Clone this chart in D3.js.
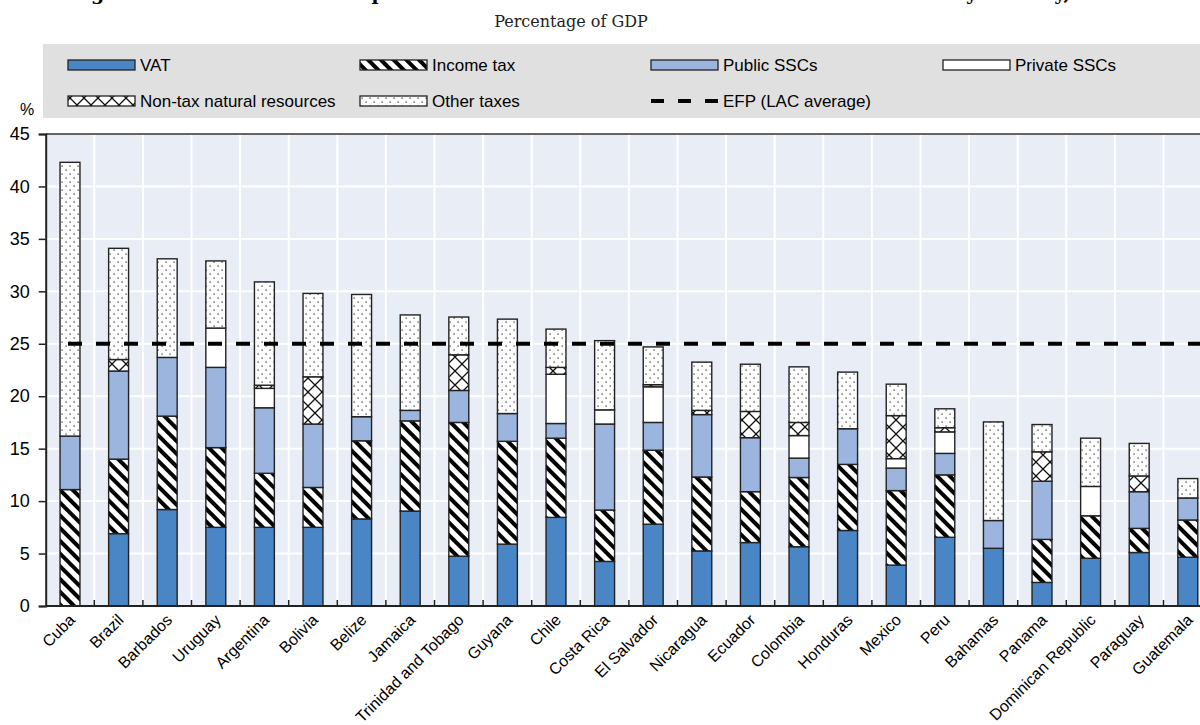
<!DOCTYPE html>
<html>
<head>
<meta charset="utf-8">
<script src="https://cdn.jsdelivr.net/npm/d3@7"></script>
<style>
  html, body { margin: 0; padding: 0; background: #fff; }
  svg { display: block; }
  .lbl { font-family: "Liberation Sans Narrow", "Arial Narrow", "Liberation Sans", Arial, sans-serif; fill: #000; }
</style>
</head>
<body>
<svg id="chart" width="1200" height="725"></svg>
<script>
// ---------------- DATA ----------------
const countries = ["Cuba","Brazil","Barbados","Uruguay","Argentina","Bolivia","Belize","Jamaica",
  "Trinidad and Tobago","Guyana","Chile","Costa Rica","El Salvador","Nicaragua","Ecuador","Colombia",
  "Honduras","Mexico","Peru","Bahamas","Panama","Dominican Republic","Paraguay","Guatemala"];
const vat        = [0, 6.9, 9.2, 7.5, 7.5, 7.5, 8.3, 9.05, 4.75, 5.9, 8.45, 4.25, 7.8, 5.25, 6.05, 5.65, 7.2, 3.9, 6.55, 5.5, 2.25, 4.55, 5.1, 4.65];
const incomeTax  = [11.1, 7.1, 8.9, 7.6, 5.15, 3.8, 7.45, 8.6, 12.75, 9.8, 7.55, 4.9, 7.05, 7.05, 4.85, 6.6, 6.3, 7.1, 5.95, 0, 4.1, 4.05, 2.3, 3.55];
const publicSSC  = [5.1, 8.4, 5.6, 7.65, 6.25, 6.05, 2.3, 1.0, 3.05, 2.65, 1.4, 8.2, 2.65, 5.95, 5.15, 1.85, 3.4, 2.15, 2.05, 2.65, 5.55, 0, 3.5, 2.1];
const privateSSC = [0, 0, 0, 3.75, 1.85, 0, 0, 0, 0, 0, 4.7, 1.35, 3.4, 0, 0, 2.15, 0, 0.9, 2.05, 0, 0, 2.8, 0, 0];
const nonTaxNR   = [0, 1.1, 0, 0, 0.3, 4.5, 0, 0, 3.4, 0, 0.65, 0, 0.2, 0.4, 2.5, 1.25, 0, 4.1, 0.4, 0, 2.8, 0, 1.5, 0];
const otherTaxes = [26.1, 10.6, 9.4, 6.4, 9.85, 7.95, 11.65, 9.1, 3.6, 9.0, 3.65, 6.6, 3.6, 4.6, 4.5, 5.3, 5.4, 3.0, 1.8, 9.4, 2.6, 4.6, 3.1, 1.85];
const efpAverage = 25;
const yTicks = [0, 5, 10, 15, 20, 25, 30, 35, 40, 45];
const seriesNames = ["VAT", "Income tax", "Public SSCs", "Private SSCs", "Non-tax natural resources", "Other taxes"];
const seriesKeys = ["vat", "incomeTax", "publicSSC", "privateSSC", "nonTaxNR", "otherTaxes"];
const title = "Figure 3.2. Tax revenue composition and non-tax revenues from natural resources by country, 2021";
const subtitle = "Percentage of GDP";

// ---------------- SETUP ----------------
const rows = countries.map((c, i) => ({
  country: c, vat: vat[i], incomeTax: incomeTax[i], publicSSC: publicSSC[i],
  privateSSC: privateSSC[i], nonTaxNR: nonTaxNR[i], otherTaxes: otherTaxes[i]
}));
const stacked = d3.stack().keys(seriesKeys)(rows);

const svg = d3.select("#chart");
const defs = svg.append("defs");

// patterns
const pInc = defs.append("pattern").attr("id", "p-income").attr("patternUnits", "userSpaceOnUse")
  .attr("width", 9).attr("height", 9).attr("patternTransform", "rotate(-45)");
pInc.append("rect").attr("width", 9).attr("height", 9).attr("fill", "#fff");
pInc.append("rect").attr("x", 0).attr("width", 4).attr("height", 9).attr("fill", "#000");

const pDot = defs.append("pattern").attr("id", "p-dots").attr("patternUnits", "userSpaceOnUse")
  .attr("width", 8).attr("height", 8);
pDot.append("rect").attr("width", 8).attr("height", 8).attr("fill", "#fff");
pDot.append("rect").attr("x", 1.5).attr("y", 1.5).attr("width", 1.2).attr("height", 1.2).attr("fill", "#222");
pDot.append("rect").attr("x", 5.5).attr("y", 5.5).attr("width", 1.2).attr("height", 1.2).attr("fill", "#222");

const pX = defs.append("pattern").attr("id", "p-cross").attr("patternUnits", "userSpaceOnUse")
  .attr("width", 14).attr("height", 14);
pX.append("rect").attr("width", 14).attr("height", 14).attr("fill", "#fff");
pX.append("path").attr("d", "M0,0L14,14M14,0L0,14").attr("stroke", "#111").attr("stroke-width", 1.3);

const fills = {
  vat: "#4a86c6", incomeTax: "url(#p-income)", publicSSC: "#9bb5de",
  privateSSC: "#ffffff", nonTaxNR: "url(#p-cross)", otherTaxes: "url(#p-dots)"
};

const plotLeft = 45.7, step = 48.6, plotTop = 134, plotBottom = 606;
const x = d3.scaleBand().domain(countries).range([plotLeft, plotLeft + step * countries.length])
  .paddingInner(0.59).paddingOuter(0.295);
const xGrid = d3.scaleBand().domain(countries).range([plotLeft, plotLeft + step * countries.length]).padding(0);
const y = d3.scaleLinear().domain([0, 45]).range([plotBottom, plotTop]);

// ---------------- TITLE ----------------
svg.append("text").attr("x", 600).attr("y", 0).attr("text-anchor", "middle")
  .attr("font-family", "DejaVu Serif, serif").attr("font-weight", "bold").attr("font-size", 19)
  .text(title);
svg.append("text").attr("x", 571).attr("y", 27).attr("text-anchor", "middle")
  .attr("font-family", "DejaVu Serif, serif").attr("font-size", 16).attr("fill", "#222")
  .text(subtitle);

// ---------------- LEGEND ----------------
svg.append("rect").attr("x", plotLeft - 2.7).attr("y", 44).attr("width", 1200 - plotLeft + 2.7).attr("height", 74)
  .attr("fill", "#e0e0e0");
const legendCols = [68, 360, 651, 943];
const legendItems = seriesKeys.map((k, i) => ({ key: k, name: seriesNames[i] }));
legendItems.forEach((d, i) => {
  const col = i < 4 ? legendCols[i] : legendCols[i - 4];
  const rowY = i < 4 ? 65 : 101;
  svg.append("rect").attr("x", col).attr("y", rowY - 5).attr("width", 67).attr("height", 10)
    .attr("fill", fills[d.key]).attr("stroke", "#222").attr("stroke-width", 1.3);
  svg.append("text").attr("class", "lbl").attr("x", col + 72).attr("y", rowY + 6)
    .attr("font-size", 17).text(d.name);
});
svg.append("line").attr("x1", legendCols[2]).attr("x2", legendCols[2] + 67).attr("y1", 101).attr("y2", 101)
  .attr("stroke", "#000").attr("stroke-width", 4).attr("stroke-dasharray", "13,14");
svg.append("text").attr("class", "lbl").attr("x", legendCols[2] + 72).attr("y", 107)
  .attr("font-size", 17).text("EFP (LAC average)");

// ---------------- PLOT AREA ----------------
svg.append("rect").attr("x", plotLeft).attr("y", plotTop).attr("width", 1200 - plotLeft).attr("height", plotBottom - plotTop)
  .attr("fill", "#e9edf6");
svg.append("g").selectAll("line").data(yTicks.filter(t => t > 0 && t < 45)).join("line")
  .attr("x1", plotLeft).attr("x2", 1200).attr("y1", d => y(d)).attr("y2", d => y(d))
  .attr("stroke", "#fff").attr("stroke-width", 2);
svg.append("g").selectAll("line").data(countries.slice(1)).join("line")
  .attr("x1", d => xGrid(d)).attr("x2", d => xGrid(d)).attr("y1", plotTop).attr("y2", plotBottom)
  .attr("stroke", "#fff").attr("stroke-width", 2);

svg.append("line").attr("x1", plotLeft).attr("x2", 1200).attr("y1", plotTop).attr("y2", plotTop)
  .attr("stroke", "#333").attr("stroke-width", 1.5);

// bars
const gBars = svg.append("g");
stacked.forEach(layer => {
  gBars.append("g").selectAll("rect").data(layer.filter(d => d[1] - d[0] > 0)).join("rect")
    .attr("x", d => x(d.data.country))
    .attr("width", x.bandwidth())
    .attr("y", d => y(d[1]))
    .attr("height", d => y(d[0]) - y(d[1]))
    .attr("fill", fills[layer.key])
    .attr("stroke", "#222").attr("stroke-width", 1.4);
});

// EFP line
svg.append("line")
  .attr("x1", x(countries[0]) + x.bandwidth() / 2 - 2).attr("x2", 1200)
  .attr("y1", y(efpAverage)).attr("y2", y(efpAverage))
  .attr("stroke", "#000").attr("stroke-width", 4).attr("stroke-dasharray", "14,14");

// x axis
svg.append("line").attr("x1", plotLeft).attr("x2", 1200).attr("y1", plotBottom).attr("y2", plotBottom)
  .attr("stroke", "#222").attr("stroke-width", 2);
svg.append("g").selectAll("line").data(countries.slice(1)).join("line")
  .attr("x1", d => xGrid(d)).attr("x2", d => xGrid(d)).attr("y1", plotBottom).attr("y2", plotBottom - 6)
  .attr("stroke", "#222").attr("stroke-width", 1.5);
svg.append("g").selectAll("text").data(countries).join("text")
  .attr("class", "lbl").attr("font-size", 16).attr("text-anchor", "end")
  .attr("transform", d => `translate(${x(d) + x.bandwidth() / 2 + 6},${plotBottom + 15}) rotate(-45)`)
  .text(d => d);

// y axis
const yAxis = svg.append("g").attr("transform", `translate(${plotLeft},0)`)
  .call(d3.axisLeft(y).tickValues(yTicks).tickSize(7).tickPadding(9).tickFormat(d3.format("d")));
yAxis.select(".domain").attr("stroke", "#222").attr("stroke-width", 2);
yAxis.selectAll(".tick line").attr("stroke", "#222").attr("stroke-width", 1.5);
yAxis.selectAll(".tick text").attr("class", "lbl").attr("font-size", 18);
svg.append("text").attr("class", "lbl").attr("x", 27).attr("y", 115).attr("text-anchor", "middle")
  .attr("font-size", 16).text("%");
</script>
</body>
</html>
